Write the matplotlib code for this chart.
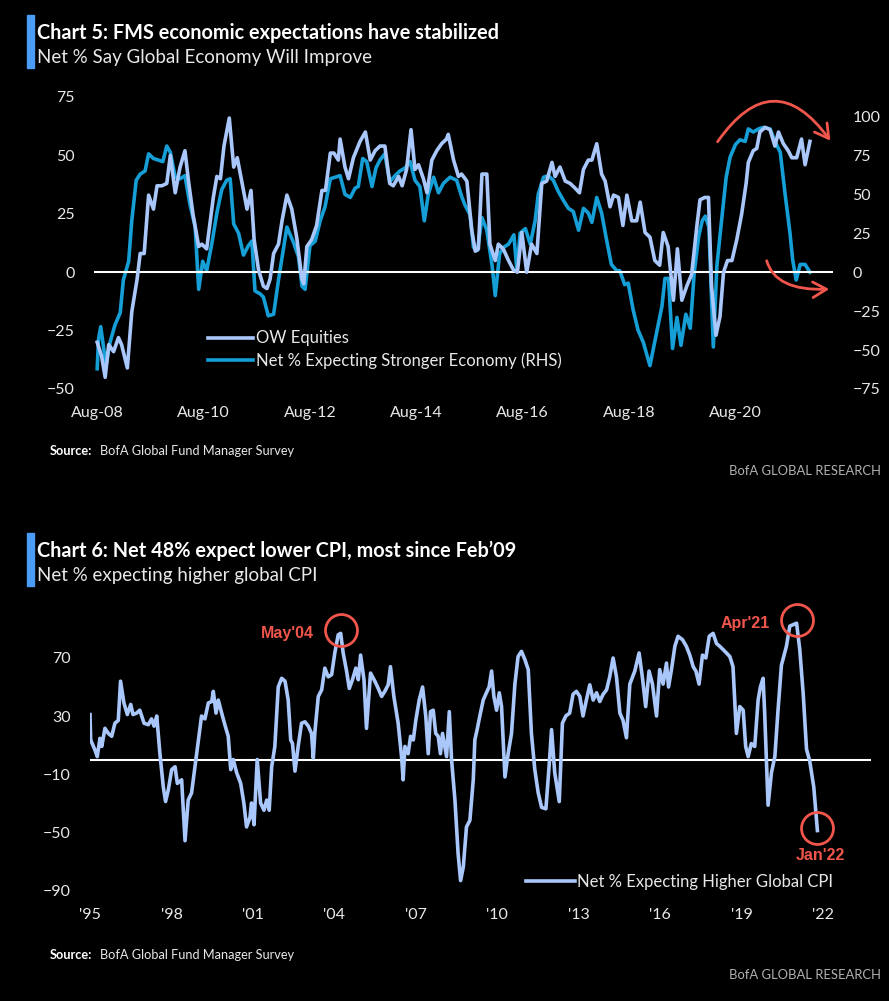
import numpy as np
import matplotlib.pyplot as plt
from matplotlib.patches import Rectangle

plt.rcParams['font.family'] = ['Lato', 'DejaVu Sans']

# ---- Chart 5 data (months since Aug-2008) ----
ow_m = [0, 1, 1.8, 2.6, 3.7, 4.8, 5.5, 6.8, 7.8, 9, 9.7, 10.6, 11.6, 12.7, 13.5, 14.6,
        15.7, 16.5, 17.6, 18.7, 19.8, 20.6, 21.6, 22.9, 23.6, 24.7, 26.2, 27, 27.8, 28.6,
        29.8, 30.8, 31.6, 32.6, 33.8, 34.7, 35.4, 36.4, 37.5, 38.3, 39, 39.8, 40.9, 41.7,
        42.8, 43.9, 45, 46.2, 46.6, 47.3, 48.4, 49.5, 50.7, 51.5, 52.6, 53.4, 54.4, 54.8,
        55.9, 56.7, 57.8, 59.3, 60.5, 61.6, 62.7, 63.8, 64.9, 66, 66.8, 68, 68.8, 69.8,
        70.8, 71.7, 72.5, 73.6, 74.4, 75.5, 76.6, 77.7, 78.8, 79.2, 80.4, 81.5, 82.2, 83.4,
        84.5, 85.3, 86, 86.8, 87.9, 88.6, 89.8, 90.5, 91.6, 92.8, 93.9, 94.8, 95.8, 96.9,
        98, 99.2, 100.3, 101.4, 102.6, 103.3, 104.4, 105.6, 106.7, 107.8, 108.8, 109.7,
        110.8, 111.6, 112.7, 113.8, 114.6, 115.7, 116.5, 117.6, 118.6, 119.5, 120.6, 121.7,
        122.5, 123.6, 124.7, 125.8, 126.9, 127.7, 128.8, 130, 130.9, 131.9, 133, 134.1,
        135.3, 136, 137.1, 137.9, 138.6, 139.6, 140.5, 141.3, 142.2, 143.2, 144.3, 145.4,
        146.4, 146.9, 148, 148.8, 149.5, 150.7, 151.8, 152.9, 153.7, 154.8, 155.9, 156.7,
        157.8, 158.9, 159.7, 160.8]
ow_v = [-30, -36, -45, -31, -34, -28, -31, -41, -17, -3, 8, 8, 33, 27, 37, 37,
        38, 50, 34, 45, 52, 39, 25, 11, 12, 10, 32, 41, 40, 54,
        66, 45, 49, 39, 27, 35, 14, 1, -6, -7, -3, 8, 12, 22,
        33, 27, 15, -3, -5, 11, 14, 20, 35, 35, 51, 51, 48, 57,
        45, 40, 49, 56, 60, 48, 52, 54, 54, 38, 37, 41, 37, 44,
        61, 44, 46, 40, 34, 48, 52, 55, 57, 59, 48, 41, 42, 39,
        18, 9, 10, 42, 42, 12, 5, 12, 10, 5, 1, 0, 17, 0,
        12, 8, 38, 39, 47, 41, 45, 39, 38, 36, 34, 44,
        48, 48, 55, 42, 39, 28, 33, 32, 20, 33, 22, 22,
        30, 17, 15, 5, 3, 17, 11, -12, 10, -12, -6, -1,
        20, 31, 32, 32, -6, -27, -19, 0, 5, 5, 14, 25,
        38, 47, 52, 53, 60, 62, 61, 54, 60, 55, 52, 49,
        49, 57, 46, 56]

econ_m = [0, 0.3, 0.8, 2, 2.9, 4, 5.2, 5.9, 7.1, 7.8, 8.8, 9.7, 10.8, 11.6, 12.7, 13.8,
          14.8, 15.7, 16.5, 17.6, 18.7, 19.8, 20.9, 22.1, 22.9, 23.8, 24.7, 25.9, 27, 28.1,
          29.2, 30, 30.8, 31.9, 33, 34.1, 34.9, 35.6, 36.8, 37.5, 38.6, 39.8, 40.9, 42.8,
          44.3, 45.4, 46.2, 46.9, 48, 49.2, 50.3, 51.4, 52.6, 53.7, 54.8, 55.9, 57.1, 58.2,
          58.9, 59.9, 60.8, 62, 62.9, 63.8, 64.9, 66, 67.2, 68.3, 69.5, 70.6, 71.7, 72.8,
          73.8, 74.7, 75.9, 77, 78.1, 79.6, 81.1, 82.3, 83, 84.1, 84.9, 85.8, 86.8, 87.9,
          89.1, 89.8, 90.8, 91.7, 92.8, 94, 94.7, 95.4, 96.6, 97.7, 98.8, 99.5, 100.7,
          101.8, 102.9, 104, 105.2, 106.3, 107.4, 108.6, 109.7, 110.8, 111.6, 112.7,
          113.8, 114.9, 116, 117.2, 117.9, 119, 119.8, 120.9, 122, 123.2, 124.7, 126.2,
          127.4, 128.1, 128.9, 129.8, 130.8, 131.7, 132.8, 133.8, 134.7, 135.7, 136.5,
          137.2, 138, 139, 139.8, 141, 141.9, 142.8, 144, 145, 146.2, 146.9, 148, 149.2,
          150.3, 151.8, 152.9, 154.1, 155.2, 156.3, 156.9, 157.7, 158.6, 159.7, 160.8]
econ_v = [-62, -43, -35, -60, -45, -34, -26, -5, 7, 33, 59, 63, 65, 76, 73, 72,
          71, 81, 77, 61, 60, 62, 44, 29, -11, 7, 1, 19, 38, 53,
          59, 60, 31, 25, 11, 17, 20, -12, -14, -16, -28, -27, -5, 29,
          19, 10, -9, -11, 17, 20, 33, 42, 60, 61, 62, 50, 48, 54,
          55, 73, 71, 55, 67, 72, 76, 58, 62, 65, 67, 71, 59, 55,
          33, 50, 61, 51, 57, 61, 59, 48, 43, 37, 16, 14, 35, 27,
          4, -15, 12, 16, 18, 24, 1, 25, 28, 18, 33, 50, 61,
          62, 59, 52, 46, 41, 39, 27, 41, 38, 32, 48,
          38, 21, 5, 1, 1, -8, -7, -24, -37, -45, -60, -39,
          -22, -4, -4, -49, -29, -47, -27, -36, 0, 23, 33,
          36, 29, -48, 4, 37, 61, 74, 82, 85, 84, 92, 90, 92,
          93, 92, 84, 77, 50, 25, 8, -5, 5, 5, 0]

top_ticks = ['Aug-08', 'Aug-10', 'Aug-12', 'Aug-14', 'Aug-16', 'Aug-18', 'Aug-20']
top_left_ticks = [-50, -25, 0, 25, 50, 75]
top_right_ticks = [-75, -50, -25, 0, 25, 50, 75, 100]

# ---- Chart 6 data (months since Jan-1995) ----
cpi_m = [0, 0.3, 2.2, 3.2, 4.4, 5.2, 6.6, 8.1, 9.6, 11, 12.5, 13.5, 15, 16.5, 18, 19,
         20.6, 22, 23.9, 25.8, 27.2, 28.3, 29.5, 30.9, 32.4, 33.4, 34.6, 36.1, 37.6, 38.6,
         40.5, 42, 43.4, 44.9, 46.4, 47.9, 49.3, 50.8, 52.3, 53.8, 54.5, 55.7, 56.7, 58.2,
         59.6, 61.1, 62.2, 63.3, 64.8, 66.6, 68, 69.2, 70.7, 71.4, 72.5, 73.9, 75.4, 76.9,
         78.1, 79.2, 80.3, 81.7, 83.2, 84.7, 86.2, 87.6, 88.7, 89.5, 90.6, 92, 93.5, 95,
         96.5, 97.9, 98.7, 99.4, 100.9, 102.4, 103.8, 105.3, 106.8, 108.2, 109.7, 110.8,
         111.9, 113.4, 114.6, 116, 117.5, 118.6, 119.6, 121.1, 122.2, 124, 125.9, 127.4,
         128.9, 130.3, 131.8, 132.8, 134.3, 136.2, 137.7, 138.4, 139.2, 140.6, 141.7,
         142.9, 144, 145.5, 147, 148.4, 149.5, 150.5, 151.7, 152.8, 153.9, 154.9, 155.8,
         157.6, 158.8, 159.8, 161.3, 162.7, 163.8, 165, 166.4, 167.9, 169.4, 170.1, 171.1,
         172.3, 173.8, 175.2, 176.4, 177.5, 178.5, 179.7, 180.9, 181.9, 183.4, 184.8,
         186.3, 187.8, 189.2, 190.7, 192.2, 193.7, 195.1, 196.6, 198.1, 199.6, 201.5,
         202.9, 204, 205.4, 207.4, 208.8, 210.3, 212, 213.5, 215, 216.5, 217.9, 219.4,
         220.9, 222.4, 223.9, 225.3, 226.8, 228.3, 229.7, 231.2, 232.7, 234.2, 235.6,
         237.1, 238.6, 240.8, 242.7, 244.2, 245.6, 247.1, 248.6, 250.4, 251.8, 253.3,
         254.8, 255.7, 257, 258.5, 259.9, 261.9, 263.6, 265.1, 266.6, 267.8, 269.2,
         270.7, 272.2, 273.7, 275.4, 276.9, 278.4, 280.6, 282.8, 284.2, 285, 285.7,
         287.2, 288.7, 289.8, 290.9, 292.3, 293.8, 295.3, 296.3, 297.5, 298.2, 299.7,
         301.2, 302.7, 304.1, 305.6, 307.8, 309.3, 310.8, 312.3, 313.7, 315.2, 316.7,
         318.1, 319.9, 321.5]
cpi_v = [31, 13.5, 6.5, 2, 14.6, 9, 21.5, 18, 16, 25, 27, 54, 39, 31, 38, 31,
         32, 34, 25, 24, 28, 23, 30, 4, -19, -29, -21, -7, -5, -16.5,
         -14, -56, -28, -23, -5, 13.5, 30, 28, 39, 40, 47, 32, 41, 32,
         24, 16, -7, 0, -9, -16.5, -30, -46.5, -40, -30, -45, 0, -30, -35,
         -28, -35, -5, 9, 50, 56, 54, 41, 13.5, 11, -8, 9, 25, 26,
         23, 18, 1, 19, 43.5, 48, 63, 57, 58.5, 73.5, 86, 87,
         73.5, 61, 49, 55, 63, 55, 72, 55, 21.5, 59.6, 54, 49,
         43.5, 47, 51.5, 64, 43.5, 25, 2, -14, 9, 4, 16,
         13.5, 27, 41, 50, 30, 4, 33, 34, 18, 16, 4, 18,
         2, 33, 0, -28, -65, -83.5, -74, -46.5, -42, -14, 13.5, 20.6,
         30, 41, 46, 50, 61, 43.5, 34, 46, 36.5, -12, 4,
         18, 52, 71, 74.6, 69, 62, 18, -7, -23, -33, -34,
         -5, 20.6, -9, -29, 25, 30, 32, 45, 47, 43.5, 30, 41,
         51.5, 41, 46, 40, 45, 48, 57, 70, 57, 32, 27,
         15, 52, 61, 73.5, 56, 36.5, 61, 52, 30, 62, 52,
         66.5, 50, 62, 78, 85, 82.6, 78, 72, 64, 61, 52,
         72, 70, 85, 87, 80, 78, 74.6, 71, 64, 39, 18,
         36.5, 34, 9, 2, 11, 9, 41, 50, 56, 32, -31.5,
         -9, 2, 34, 65, 78, 92, 93, 94, 76, 46, 7,
         -1, -19, -49]

bot_ticks = ["'95", "'98", "'01", "'04", "'07", "'10", "'13", "'16", "'19", "'22"]
bot_yticks = [-90, -50, -10, 30, 70]

light = '#a9c7fb'
cyan = '#159fd6'
red = '#f0564b'
bar_blue = '#4b9cf5'
txt = '#e8e8e8'
W, H = 889, 1001

fig = plt.figure(figsize=(W / 100, H / 100), dpi=100, facecolor='black')


def box(l, t, r, b):
    return [l / W, 1 - b / H, (r - l) / W, (b - t) / H]


def header(y0, title, sub):
    fig.patches.append(Rectangle((27 / W, 1 - (y0 + 53) / H), 7 / W, 53 / H,
                                 transform=fig.transFigure, color=bar_blue))
    fig.text(37 / W, 1 - (y0 + 18) / H, title, color='white', fontsize=14.3,
             fontweight='bold', va='center')
    fig.text(37 / W, 1 - (y0 + 42) / H, sub, color=txt, fontsize=13.5,
             fontweight='normal', va='center')


def footer(y0):
    fig.text(50 / W, 1 - y0 / H, 'Source:', color='white', fontsize=9.2,
             fontweight='bold', va='center')
    fig.text(100 / W, 1 - y0 / H, 'BofA Global Fund Manager Survey', color=txt,
             fontsize=9.2, va='center')
    fig.text(881 / W, 1 - (y0 + 20) / H, 'BofA GLOBAL RESEARCH', color='#b0b0b0',
             fontsize=9.4, ha='right', va='center')


def style(ax):
    ax.set_facecolor('none')
    for s in ax.spines.values():
        s.set_visible(False)
    ax.tick_params(length=0, colors=txt, labelsize=11.5)


# ---------------- Chart 5 ----------------
header(15, 'Chart 5: FMS economic expectations have stabilized',
       'Net % Say Global Economy Will Improve')

ax1 = fig.add_axes(box(94, 97, 833, 389))
ax2 = ax1.twinx()
style(ax1)
style(ax2)

t0 = 2008 + 7 / 12
ow_x = [t0 + m / 12 for m in ow_m]
econ_x = [t0 + m / 12 for m in econ_m]

ax1.axhline(0, color='white', lw=1.5, zorder=1)
l1, = ax1.plot(ow_x, ow_v, color=light, lw=2.6, zorder=3, label='OW Equities')
l2, = ax2.plot(econ_x, econ_v, color=cyan, lw=2.6, zorder=2,
               label='Net % Expecting Stronger Economy (RHS)')
ax1.set_zorder(ax2.get_zorder() + 1)

ax1.set_xlim(t0 - 0.06, t0 + 166 / 12)
ax1.set_ylim(-50, 75)
ax2.set_ylim(-75, 112.5)
ax1.set_xticks([t0 + 2 * i for i in range(len(top_ticks))], top_ticks)
ax1.set_yticks(top_left_ticks)
ax2.set_yticks(top_right_ticks)
ax1.tick_params(axis='x', pad=12)
ax1.tick_params(axis='y', pad=14)
ax2.tick_params(axis='y', pad=14)
for lab in ax2.get_yticklabels():
    lab.set_horizontalalignment('left')

ax1.legend(handles=[l1, l2], loc='upper left', bbox_to_anchor=(200 / W, 1 - 322 / H),
           bbox_transform=fig.transFigure, frameon=False, fontsize=12,
           labelcolor=txt, handlelength=2.7, handletextpad=0.15, labelspacing=0.35,
           borderpad=0)

# red arrows
fig_px = 'figure pixels'
ax1.annotate('', xy=(832, H - 143), xycoords=fig_px, xytext=(716, H - 144),
             textcoords=fig_px, annotation_clip=False,
             arrowprops=dict(arrowstyle='->,head_length=0.7,head_width=0.4', color=red,
                             lw=2, connectionstyle='arc3,rad=-0.72', mutation_scale=14))
ax1.annotate('', xy=(832, H - 289), xycoords=fig_px, xytext=(766, H - 258),
             textcoords=fig_px, annotation_clip=False,
             arrowprops=dict(arrowstyle='->,head_length=0.7,head_width=0.4', color=red,
                             lw=2, connectionstyle='angle3,angleA=-78,angleB=3',
                             mutation_scale=14))

footer(451)

# ---------------- Chart 6 ----------------
header(533, "Chart 6: Net 48% expect lower CPI, most since Feb\u201909",
       'Net % expecting higher global CPI')

ax3 = fig.add_axes(box(90, 600, 871, 890))
style(ax3)
cpi_x = np.array([1995 + m / 12 for m in cpi_m])
cpi_y = np.array(cpi_v)

ax3.axhline(0, color='white', lw=1.5, zorder=1)
l3, = ax3.plot(cpi_x, cpi_y, color=light, lw=2.6, zorder=2,
               label='Net % Expecting Higher Global CPI')
ax3.set_xlim(1995, 1995 + 781 / 27.15)
ax3.set_ylim(-90, 110)
ax3.set_xticks([1995 + 3 * i for i in range(len(bot_ticks))], bot_ticks)
ax3.set_yticks(bot_yticks)
ax3.tick_params(axis='x', pad=13)
ax3.tick_params(axis='y', pad=14)

ax3.legend(handles=[l3], loc='center left', bbox_to_anchor=(518 / W, 1 - 882 / H),
           bbox_transform=fig.transFigure, frameon=False, fontsize=12,
           labelcolor=txt, handlelength=2.9, handletextpad=0.15, borderpad=0)

# circled points
early = cpi_x < 2010
i_may04 = np.argmax(np.where(early, cpi_y, -999))
i_apr21 = np.argmax(cpi_y)
i_jan22 = len(cpi_y) - 1
afont = dict(family=['Liberation Sans', 'DejaVu Sans'], fontweight='bold',
             fontsize=11.5, color=red)
for i in (i_may04, i_apr21, i_jan22):
    ax3.plot(cpi_x[i], cpi_y[i] + 2, 'o', ms=23, mfc='none', mec=red, mew=2,
             clip_on=False, zorder=4)
ax3.annotate("May'04", (cpi_x[i_may04], cpi_y[i_may04]), xytext=(-19, 0),
             textcoords='offset points', ha='right', va='center', **afont)
ax3.annotate("Apr'21", (cpi_x[i_apr21], cpi_y[i_apr21]), xytext=(-19, 0),
             textcoords='offset points', ha='right', va='center', **afont)
ax3.annotate("Jan'22", (cpi_x[i_jan22], cpi_y[i_jan22]), xytext=(2, -18),
             textcoords='offset points', ha='center', va='center', **afont)

footer(955)

fig.savefig('out.png', dpi=100, facecolor='black')
